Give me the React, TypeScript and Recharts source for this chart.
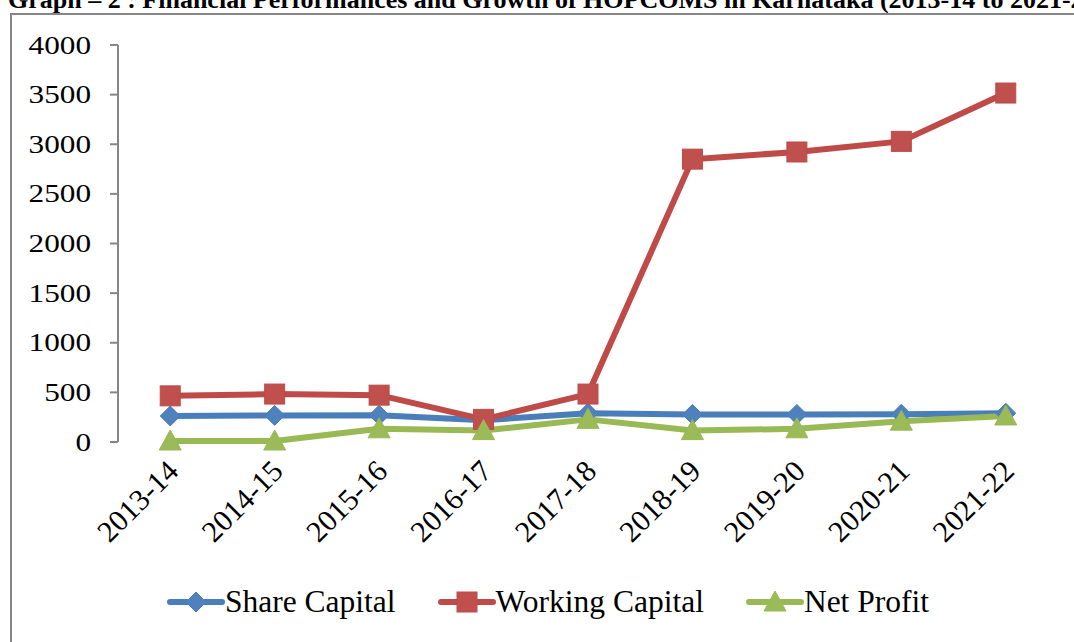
import { Legend, Line, LineChart, XAxis, YAxis } from "recharts";

const categories = [
  "2013-14",
  "2014-15",
  "2015-16",
  "2016-17",
  "2017-18",
  "2018-19",
  "2019-20",
  "2020-21",
  "2021-22",
];
const shareCapital = [262, 268, 270, 220, 290, 278, 278, 280, 290];
const workingCapital = [465, 483, 472, 228, 483, 2850, 2922, 3029, 3516];
const netProfit = [10, 10, 133, 115, 228, 115, 133, 210, 262];
const yTicks = [0, 500, 1000, 1500, 2000, 2500, 3000, 3500, 4000];

const title =
  "Graph – 2 : Financial Performances and Growth of HOPCOMS in Karnataka (2013-14 to 2021-22)";

const data = categories.map((name, i) => ({
  name,
  pos: i + 0.5,
  share: shareCapital[i],
  working: workingCapital[i],
  net: netProfit[i],
}));

const labelTicks = categories.map((_, i) => i + 0.5);
const boundaryTicks = [...categories.map((_, i) => i), categories.length];

const FONT = "'Liberation Serif', serif";
const AXIS = "#868686";

const Diamond = ({ cx, cy }: any) => (
  <path
    d={`M${cx},${cy - 10}L${cx + 10},${cy}L${cx},${cy + 10}L${cx - 10},${cy}Z`}
    fill="#4F81BD"
    stroke="#4A7EBB"
  />
);
const Square = ({ cx, cy }: any) => (
  <rect x={cx - 10} y={cy - 10} width={20} height={20} fill="#C0504D" stroke="#BE4B48" />
);
const Triangle = ({ cx, cy }: any) => (
  <path
    d={`M${cx},${cy - 11}L${cx + 11},${cy + 9}L${cx - 11},${cy + 9}Z`}
    fill="#9BBB59"
    stroke="#98B954"
  />
);

const series = [
  { key: "share", name: "Share Capital", line: "#4A7EBB", Shape: Diamond },
  { key: "working", name: "Working Capital", line: "#BE4B48", Shape: Square },
  { key: "net", name: "Net Profit", line: "#98B954", Shape: Triangle },
];

const YTick = ({ x, y, payload }: any) => (
  <text
    transform={`translate(${x},${y}) scale(1.25,1)`}
    textAnchor="end"
    dy="0.34em"
    style={{ fontFamily: FONT, fontSize: 25 }}
    fill="#000"
  >
    {payload.value}
  </text>
);

const XTick = ({ x, y, payload }: any) => {
  const ax = x + 10;
  const ay = y + 31;
  return (
    <text
      x={ax}
      y={ay}
      transform={`rotate(-45, ${ax}, ${ay})`}
      textAnchor="end"
      style={{ fontFamily: FONT, fontSize: 30 }}
      fill="#000"
    >
      {categories[Math.floor(payload.value)]}
    </text>
  );
};

const renderLegend = () => (
  <div
    style={{
      height: 80,
      display: "flex",
      alignItems: "center",
      paddingLeft: 167,
      fontFamily: FONT,
      fontSize: 31.5,
      color: "#000",
    }}
  >
    {series.map(({ key, name, line, Shape }) => (
      <div key={key} style={{ display: "flex", alignItems: "center", marginRight: 42 }}>
        <svg width={58} height={24}>
          <line x1={3} y1={12} x2={55} y2={12} stroke={line} strokeWidth={6} strokeLinecap="round" />
          <Shape cx={29} cy={12} />
        </svg>
        <span>{name}</span>
      </div>
    ))}
  </div>
);

export default function App() {
  return (
    <div
      style={{
        position: "absolute",
        left: 0,
        top: 0,
        width: 1074,
        height: 642,
        overflow: "hidden",
        background: "#fff",
        fontFamily: FONT,
      }}
    >
      <div
        style={{
          position: "absolute",
          left: 8,
          top: -15,
          whiteSpace: "nowrap",
          fontWeight: "bold",
          fontSize: 26,
          lineHeight: "30px",
          color: "#000",
        }}
      >
        {title}
      </div>
      <div
        style={{
          position: "absolute",
          left: 10,
          top: 13,
          width: 1200,
          height: 800,
          border: `2px solid ${AXIS}`,
        }}
      />
      <div style={{ position: "absolute", left: 0, top: 0 }}>
        <LineChart
          width={1074}
          height={642}
          data={data}
          margin={{ top: 45, right: 16, left: 0, bottom: 0 }}
          style={{ fontFamily: FONT }}
        >
          <XAxis
            xAxisId="marks"
            dataKey="pos"
            type="number"
            domain={[0, categories.length]}
            allowDataOverflow
            ticks={boundaryTicks}
            interval={0}
            height={0}
            tick={false}
            tickSize={9}
            stroke={AXIS}
            strokeWidth={2}
          />
          <XAxis
            xAxisId="labels"
            dataKey="pos"
            type="number"
            domain={[0, categories.length]}
            allowDataOverflow
            ticks={labelTicks}
            interval={0}
            height={120}
            axisLine={false}
            tickLine={false}
            tickSize={0}
            tickMargin={0}
            tick={<XTick />}
          />
          <YAxis
            width={118}
            domain={[0, 4000]}
            ticks={yTicks}
            interval={0}
            tickSize={8}
            tickMargin={19}
            stroke={AXIS}
            strokeWidth={2}
            tick={<YTick />}
          />
          <Legend verticalAlign="bottom" content={renderLegend} />
          {series.map(({ key, name, line, Shape }) => (
            <Line
              key={key}
              xAxisId="labels"
              dataKey={key}
              name={name}
              stroke={line}
              strokeWidth={6}
              strokeLinejoin="round"
              isAnimationActive={false}
              dot={(p: any) => <Shape key={`${key}-${p.index}`} cx={p.cx} cy={p.cy} />}
              activeDot={false}
            />
          ))}
        </LineChart>
      </div>
    </div>
  );
}
